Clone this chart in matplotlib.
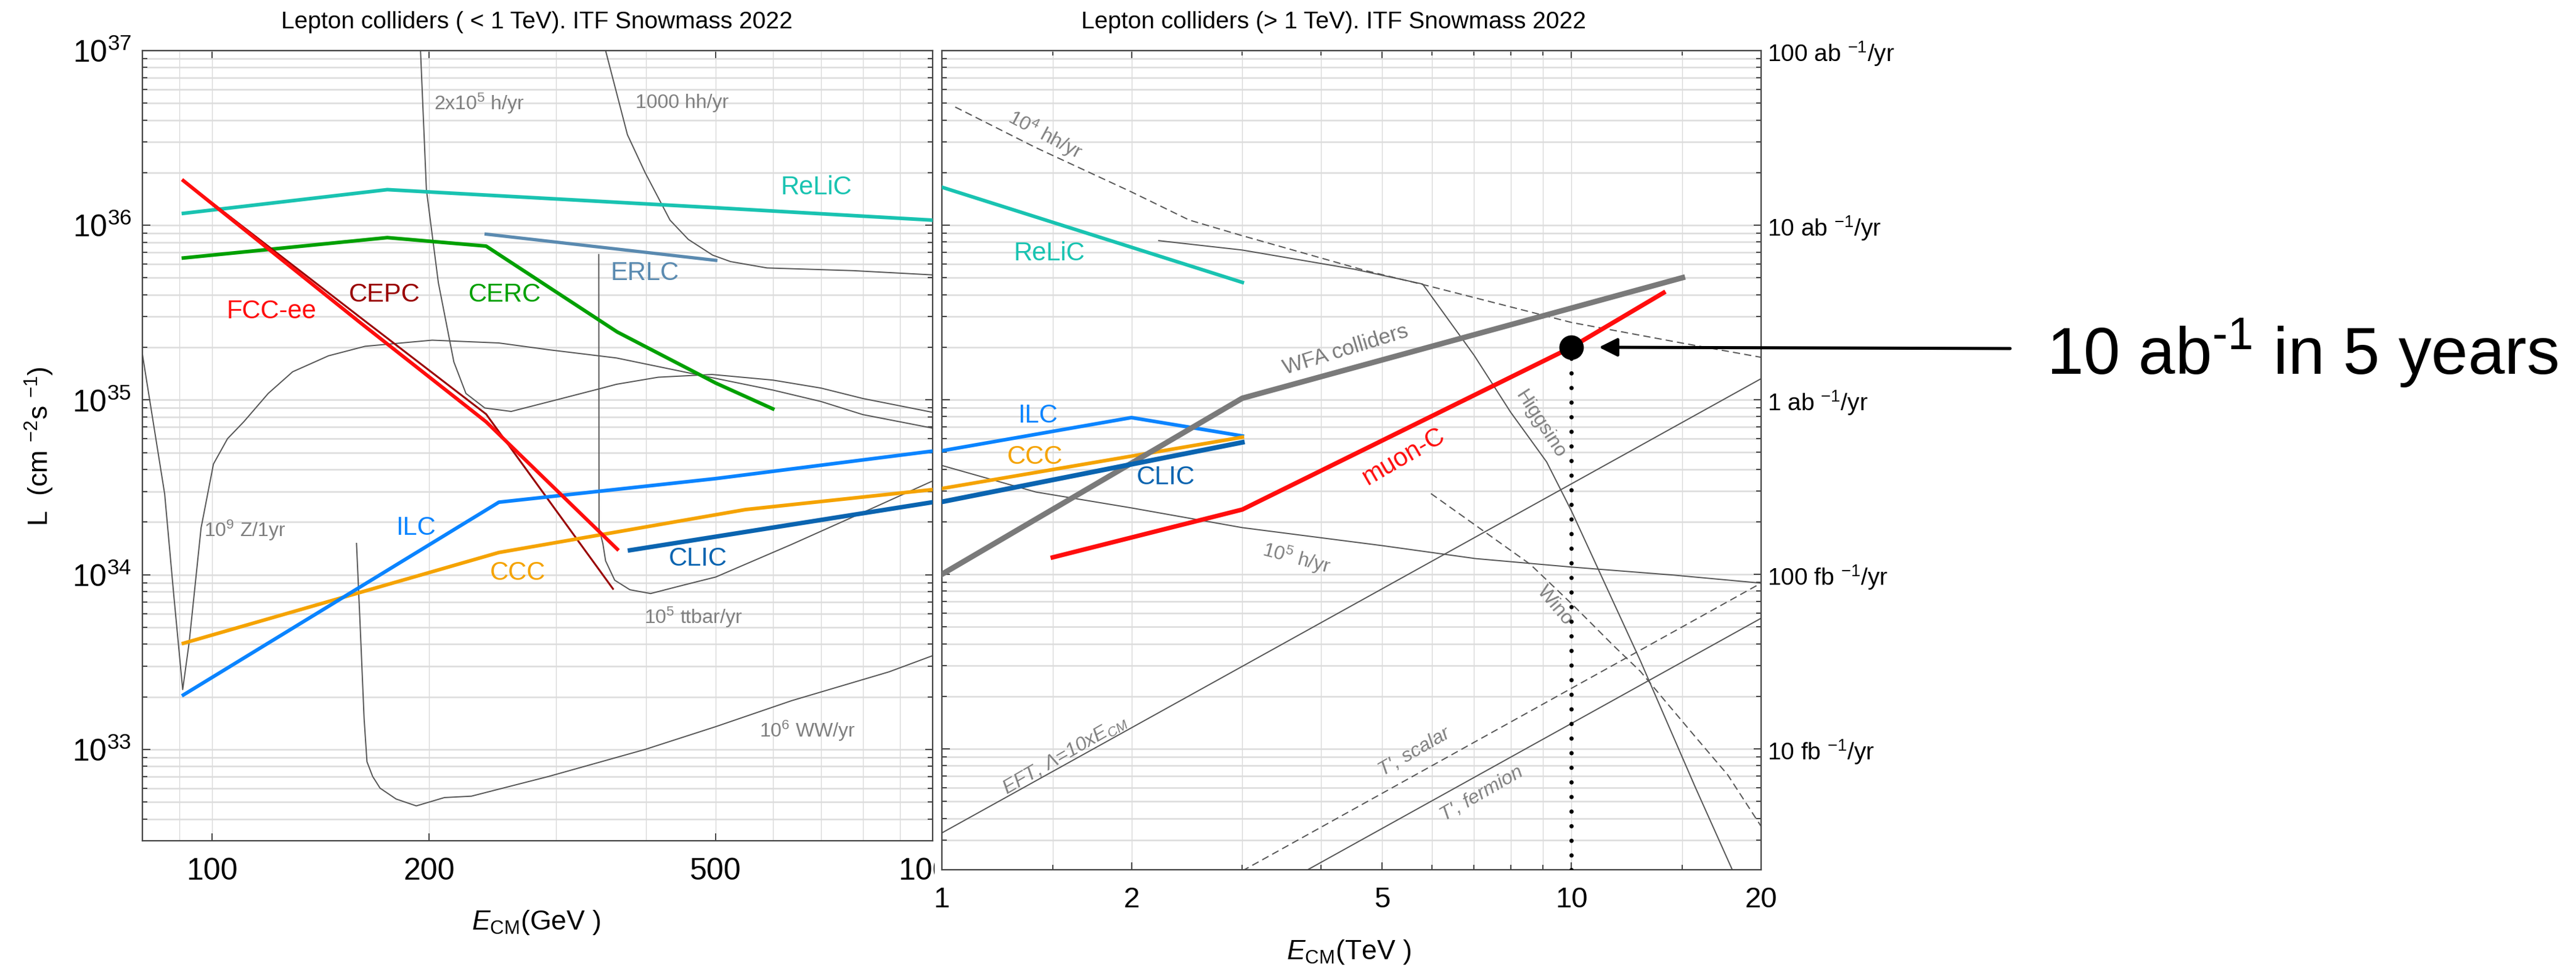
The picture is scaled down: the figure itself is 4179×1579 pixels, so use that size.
import matplotlib
matplotlib.use("Agg")
import matplotlib.pyplot as plt
from matplotlib.ticker import FixedLocator, FixedFormatter, LogLocator, NullFormatter, LogFormatterMathtext
from matplotlib.transforms import Bbox, TransformedBbox

plt.rcParams['font.family'] = ['Liberation Sans', 'DejaVu Sans']
plt.rcParams['mathtext.fontset'] = 'custom'
plt.rcParams['mathtext.rm'] = 'Liberation Sans'
plt.rcParams['mathtext.it'] = 'Liberation Sans:italic'
plt.rcParams['mathtext.bf'] = 'Liberation Sans:bold'
plt.rcParams['mathtext.sf'] = 'Liberation Sans'

# ---- colliders below 1 TeV (E in GeV, L in cm^-2 s^-1) ----
relic_lo_e = [91.2, 175, 500, 1000]
relic_lo_l = [1.17e36, 1.6e36, 1.26e36, 1.07e36]
cerc_e = [91.2, 175, 240, 365, 500, 600]
cerc_l = [6.5e35, 8.5e35, 7.6e35, 2.45e35, 1.25e35, 8.9e34]
erlc_e = [240, 500]
erlc_l = [8.9e35, 6.3e35]
fcc_e = [91.2, 160, 240, 365]
fcc_l = [1.8e36, 2.8e35, 7.5e34, 1.4e34]
cepc_e = [91.2, 160, 240, 360]
cepc_l = [1.8e36, 3.0e35, 8.3e34, 8.3e33]
ilc_lo_e = [91.2, 250, 500, 1000]
ilc_lo_l = [2.05e33, 2.6e34, 3.55e34, 5.1e34]
ccc_lo_e = [91.2, 250, 550, 1000]
ccc_lo_l = [4.05e33, 1.34e34, 2.36e34, 3.07e34]
clic_lo_e = [380, 1000]
clic_lo_l = [1.38e34, 2.6e34]

# physics reach curves, low energy
z_e = [80, 85.9, 88.4, 91.0, 92.9, 96.5, 100.4, 105, 110.6, 119.6, 129.3, 145, 163, 202, 250, 293,
       364, 470, 600, 700, 800, 1000]
z_l = [1.83e35, 2.9e34, 7.8e33, 2.2e33, 4.1e33, 1.85e34, 4.3e34, 6.0e34, 7.5e34, 1.09e35, 1.45e35,
       1.79e35, 2.03e35, 2.2e35, 2.12e35, 1.94e35, 1.74e35, 1.4e35, 1.14e35, 9.8e34, 8.25e34, 6.9e34]
h2e5_e = [192.5, 194.6, 198.3, 206, 216.5, 225, 239, 260, 300, 345, 364, 416, 494, 600, 700, 800, 1000]
h2e5_l = [3e37, 1e37, 1.6e36, 4.7e35, 1.65e35, 1.09e35, 9.0e34, 8.6e34, 1.0e35, 1.16e35, 1.23e35,
          1.35e35, 1.4e35, 1.3e35, 1.17e35, 1.02e35, 8.5e34]
hh1000_e = [349, 351.6, 377, 399, 432, 458, 495, 524, 589, 775, 1000]
hh1000_l = [1.5e37, 1e37, 3.3e36, 2.0e36, 1.07e36, 8.3e35, 6.75e35, 6.2e35, 5.7e35, 5.5e35, 5.2e35]
tt_e = [344, 344.3, 348.6, 351.6, 362, 380, 406, 450, 500, 637, 804, 1000]
tt_l = [6.8e35, 1.85e34, 1.5e34, 1.2e34, 9.3e33, 8.2e33, 7.8e33, 8.7e33, 9.7e33, 1.49e34, 2.29e34, 3.44e34]
ww_e = [158.6, 160.5, 162.5, 164, 167, 171, 180, 192, 210, 229, 293, 399, 500, 637, 870, 1000]
ww_l = [1.51e34, 5e33, 1.5e33, 8.5e32, 7e32, 6e32, 5.2e32, 4.75e32, 5.3e32, 5.4e32, 7e32, 1e33,
        1.35e33, 1.9e33, 2.78e33, 3.44e33]

# ---- colliders above 1 TeV (E in TeV) ----
relic_hi_e = [1, 3]
relic_hi_l = [1.65e36, 4.7e35]
ilc_hi_e = [1, 2, 3]
ilc_hi_l = [5.1e34, 7.9e34, 6.2e34]
ccc_hi_e = [1, 3]
ccc_hi_l = [3.1e34, 6.1e34]
clic_hi_e = [1, 3]
clic_hi_l = [2.6e34, 5.7e34]
wfa_e = [1, 3, 15]
wfa_l = [1e34, 1.02e35, 5e35]
muon_e = [1.5, 3, 10, 14]
muon_l = [1.25e34, 2.35e34, 2.0e35, 4.1e35]

# physics reach curves, high energy
hh4_e = [1.05, 1.41, 2.0, 2.47, 3.0, 4.7, 5.98, 10, 15.1, 20]
hh4_l = [4.75e36, 2.78e36, 1.55e36, 1.07e36, 8.7e35, 5.5e35, 4.45e35, 2.77e35, 2.1e35, 1.75e35]
higgsino_e = [2.21, 3.0, 4.51, 5.8, 7.0, 8.0, 9.13, 10, 12.86, 15.7, 18.0, 18.5]
higgsino_l = [8.15e35, 7.2e35, 5.6e35, 4.6e35, 1.8e35, 8.5e34, 4.4e34, 2.3e34, 3.2e33, 6.1e32, 2.03e32, 1.5e32]
wino_e = [5.98, 8.6, 10.08, 11.66, 12.86, 13.93, 15.7, 17.7, 20]
wino_l = [2.9e34, 1.14e34, 6.6e33, 3.9e33, 2.78e33, 1.97e33, 1.18e33, 7.1e32, 3.6e32]
h5_e = [1, 1.41, 2, 3, 5, 7.04, 10, 14.5, 20]
h5_l = [4.2e34, 2.96e34, 2.4e34, 1.85e34, 1.46e34, 1.23e34, 1.1e34, 9.9e33, 8.9e33]
eft_e = [1, 20]
eft_l = [3.3e32, 1.32e35]
tscalar_e = [3, 20]
tscalar_l = [2.0e32, 8.9e33]
tfermion_e = [3.81, 20]
tfermion_l = [2.03e32, 5.6e33]

# 10 ab^-1 in 5 years point
mark_e = 10
mark_l = 2e35

ylo_ticks = [1e33, 1e34, 1e35, 1e36, 1e37]
right_ticklabels = [r'10 fb $^{-1}$/yr', r'100 fb $^{-1}$/yr', r'1 ab $^{-1}$/yr',
                    r'10 ab $^{-1}$/yr', r'100 ab $^{-1}$/yr']

W, H = 4179, 1579
fig = plt.figure(figsize=(W / 200, H / 200), dpi=200)
ax1 = fig.add_axes([231 / W, 1 - 1363 / H, (1513 - 231) / W, (1363 - 82) / H])
ax2 = fig.add_axes([1528 / W, 1 - 1410 / H, (2857 - 1528) / W, (1410 - 82) / H])

teal = '#19c3b1'
green = '#00a000'
red = '#ff0d0d'
darkred = '#990000'
ilc_c = '#0a84ff'
ccc_c = '#f5a300'
clic_c = '#0a64b0'
erlc_c = '#5a8ab0'
wfa_c = '#7a7a7a'
gline = '#555555'
gtext = '#808080'

thin = dict(color=gline, lw=0.7, zorder=2)
dash = dict(color=gline, lw=0.7, dashes=(6, 3.5), zorder=2)

# left panel
for e, l in [(z_e, z_l), (h2e5_e, h2e5_l), (hh1000_e, hh1000_l), (tt_e, tt_l), (ww_e, ww_l)]:
    ax1.plot(e, l, **thin)
ax1.plot(relic_lo_e, relic_lo_l, color=teal, lw=2.1, zorder=3)
ax1.plot(cerc_e, cerc_l, color=green, lw=2.1, zorder=3)
ax1.plot(erlc_e, erlc_l, color=erlc_c, lw=1.9, zorder=3)
ax1.plot(cepc_e, cepc_l, color=darkred, lw=1.1, zorder=3)
ax1.plot(fcc_e, fcc_l, color=red, lw=2.1, zorder=4)
ax1.plot(ccc_lo_e, ccc_lo_l, color=ccc_c, lw=2.1, zorder=3)
ax1.plot(ilc_lo_e, ilc_lo_l, color=ilc_c, lw=2.1, zorder=3)
ax1.plot(clic_lo_e, clic_lo_l, color=clic_c, lw=2.6, zorder=4)

# right panel
for e, l in [(higgsino_e, higgsino_l), (h5_e, h5_l), (eft_e, eft_l), (tfermion_e, tfermion_l)]:
    ax2.plot(e, l, **thin)
for e, l in [(hh4_e, hh4_l), (wino_e, wino_l), (tscalar_e, tscalar_l)]:
    ax2.plot(e, l, **dash)
ax2.plot(relic_hi_e, relic_hi_l, color=teal, lw=2.1, zorder=3)
ax2.plot(ilc_hi_e, ilc_hi_l, color=ilc_c, lw=2.1, zorder=3)
ax2.plot(ccc_hi_e, ccc_hi_l, color=ccc_c, lw=2.1, zorder=3)
ax2.plot(clic_hi_e, clic_hi_l, color=clic_c, lw=2.8, zorder=4)
ax2.plot(wfa_e, wfa_l, color=wfa_c, lw=3.2, zorder=3)
ax2.plot(muon_e, muon_l, color=red, lw=2.6, zorder=4)

ax1.set_xscale('log')
ax1.set_yscale('log')
ax1.set_xlim(80, 1000)
ax1.set_ylim(3e32, 1e37)
ax2.set_xscale('log')
ax2.set_yscale('log')
ax2.set_xlim(1, 20)
ax2.set_ylim(2.03e32, 1e37)

ax1.xaxis.set_major_locator(FixedLocator([100, 200, 500, 1000]))
ax1.xaxis.set_major_formatter(FixedFormatter(['100', '200', '500', '1000']))
ax1.xaxis.set_minor_locator(FixedLocator([90, 300, 400, 600, 700, 800, 900]))
ax1.xaxis.set_minor_formatter(NullFormatter())
ax2.xaxis.set_major_locator(FixedLocator([1, 2, 5, 10, 20]))
ax2.xaxis.set_major_formatter(FixedFormatter(['1', '2', '5', '10', '20']))
ax2.xaxis.set_minor_locator(FixedLocator([1.5, 3, 4, 6, 7, 8, 9, 15]))
ax2.xaxis.set_minor_formatter(NullFormatter())

for ax in (ax1, ax2):
    ax.yaxis.set_major_locator(FixedLocator(ylo_ticks))
    ax.yaxis.set_minor_locator(LogLocator(base=10, subs=range(2, 10), numticks=20))
    ax.yaxis.set_minor_formatter(NullFormatter())
    ax.set_axisbelow(True)
    ax.grid(which='both', axis='x', color='#d9d9d9', lw=0.5)
    ax.grid(which='both', axis='y', color='#dcdcdc', lw=0.9)
    for s in ax.spines.values():
        s.set_color('#444444')
        s.set_linewidth(0.8)
    ax.tick_params(which='both', direction='in', top=True, right=True, bottom=True, left=True,
                   color='#444444', width=0.7)
    ax.tick_params(which='major', length=4.5)
    ax.tick_params(which='minor', length=2.9)

ax1.yaxis.set_major_formatter(LogFormatterMathtext())
ax1.tick_params(axis='y', labelsize=18, pad=6.5)
ax1.tick_params(axis='x', labelsize=18, pad=9.7)
ax1.tick_params(axis='x', which='minor', length=0)

ax2.yaxis.set_major_formatter(FixedFormatter(right_ticklabels))
ax2.tick_params(axis='y', labelleft=False, labelright=True, labelsize=14, pad=3.6)
ax2.tick_params(axis='x', labelsize=17, pad=9.7)

# titles and axis labels
fig.text(871 / W, 1 - 36 / H, 'Lepton colliders ( < 1 TeV). ITF Snowmass 2022',
         ha='center', va='center', fontsize=14)
fig.text(2164 / W, 1 - 36 / H, 'Lepton colliders (> 1 TeV). ITF Snowmass 2022',
         ha='center', va='center', fontsize=14)
fig.text(64 / W, 1 - 724 / H, r'L  (cm $^{-2}$s $^{-1}$)', rotation=90,
         ha='center', va='center', fontsize=16)
fig.text(870 / W, 1 - 1496 / H, r'$E_{\rm CM}$(GeV )', ha='center', va='center', fontsize=16)
fig.text(2188 / W, 1 - 1543 / H, r'$E_{\rm CM}$(TeV )', ha='center', va='center', fontsize=16)

# collider names
lab = dict(ha='left', va='center', fontsize=15)
ax1.text(616, 1.65e36, 'ReLiC', color=teal, **lab)
ax1.text(357, 5.3e35, 'ERLC', color=erlc_c, **lab)
ax1.text(154.7, 4.0e35, 'CEPC', color=darkred, **lab)
ax1.text(227, 4.0e35, 'CERC', color=green, **lab)
ax1.text(104.8, 3.2e35, 'FCC-ee', color=red, **lab)
ax1.text(180, 1.85e34, 'ILC', color=ilc_c, **lab)
ax1.text(243, 1.02e34, 'CCC', color=ccc_c, **lab)
ax1.text(430, 1.23e34, 'CLIC', color=clic_c, **lab)
ax2.text(1.3, 6.9e35, 'ReLiC', color=teal, **lab)
ax2.text(1.32, 8.1e34, 'ILC', color=ilc_c, **lab)
ax2.text(1.27, 4.7e34, 'CCC', color=ccc_c, **lab)
ax2.text(2.04, 3.6e34, 'CLIC', color=clic_c, **lab)
ax2.text(5.41, 4.7e34, 'muon-C', color=red, rotation=30, rotation_mode='anchor',
         ha='center', va='center', fontsize=15)
ax2.text(4.38, 1.93e35, 'WFA colliders', color=wfa_c, rotation=17, rotation_mode='anchor',
         ha='center', va='center', fontsize=12.5)

# physics curve labels
glab = dict(ha='left', va='center', fontsize=11.5, color=gtext)
ax1.text(203, 4.97e36, r'2x10$^5$ h/yr', **glab)
ax1.text(387, 5.0e36, '1000 hh/yr', **glab)
ax1.text(97.5, 1.8e34, r'10$^9$ Z/1yr', **glab)
ax1.text(398, 5.7e33, r'10$^5$ ttbar/yr', **glab)
ax1.text(575, 1.28e33, r'10$^6$ WW/yr', **glab)

rlab = dict(ha='center', va='center', fontsize=11.5, color=gtext, rotation_mode='anchor')
ax2.text(1.46, 3.3e36, r'10$^4$ hh/yr', rotation=-28, **rlab)
ax2.text(8.93, 7.2e34, 'Higgsino', rotation=-57, **rlab)
ax2.text(3.66, 1.23e34, r'10$^5$ h/yr', rotation=-15, **rlab)
ax2.text(9.4, 6.6e33, 'Wino', rotation=-50, **rlab)
ax2.text(1.57, 9.2e32, r'EFT, Λ=10x$E_{CM}$', rotation=30, style='italic', **rlab)
ax2.text(5.63, 9.6e32, "T', scalar", rotation=30, style='italic', **rlab)
ax2.text(7.2, 5.5e32, "T', fermion", rotation=30, style='italic', **rlab)

# 10 ab^-1 marker with dotted drop line and arrow
ax2.vlines(mark_e, ax2.get_ylim()[0], mark_l, color='black', lw=2.5,
           linestyles=[(0, (0.01, 3.4))], capstyle='round', zorder=5)
ax2.plot([mark_e], [mark_l], 'o', color='black', markersize=13.3, zorder=6)
ax2.annotate('', xy=(mark_e, mark_l), xytext=(3261 / W, 1 - 565 / H), textcoords='figure fraction',
             arrowprops=dict(arrowstyle='-|>,head_length=0.9,head_width=0.45', color='black',
                             lw=1.8, shrinkA=0, shrinkB=16),
             annotation_clip=False)
fig.text(3320 / W, 1 - 607 / H, '10 ab$^{\\mathsf{\u2010}1}$ in 5 years', ha='left', va='baseline',
         fontsize=38.5)

# the 1000 GeV label is cut at the edge of the left panel
fig.canvas.draw()
cut = TransformedBbox(Bbox.from_extents(0, 0, 1516 / W, 1), fig.transFigure)
for t in ax1.get_xticklabels():
    t.set_clip_box(cut)
    t.set_clip_on(True)

fig.savefig('out.png', dpi=200, facecolor='white')
